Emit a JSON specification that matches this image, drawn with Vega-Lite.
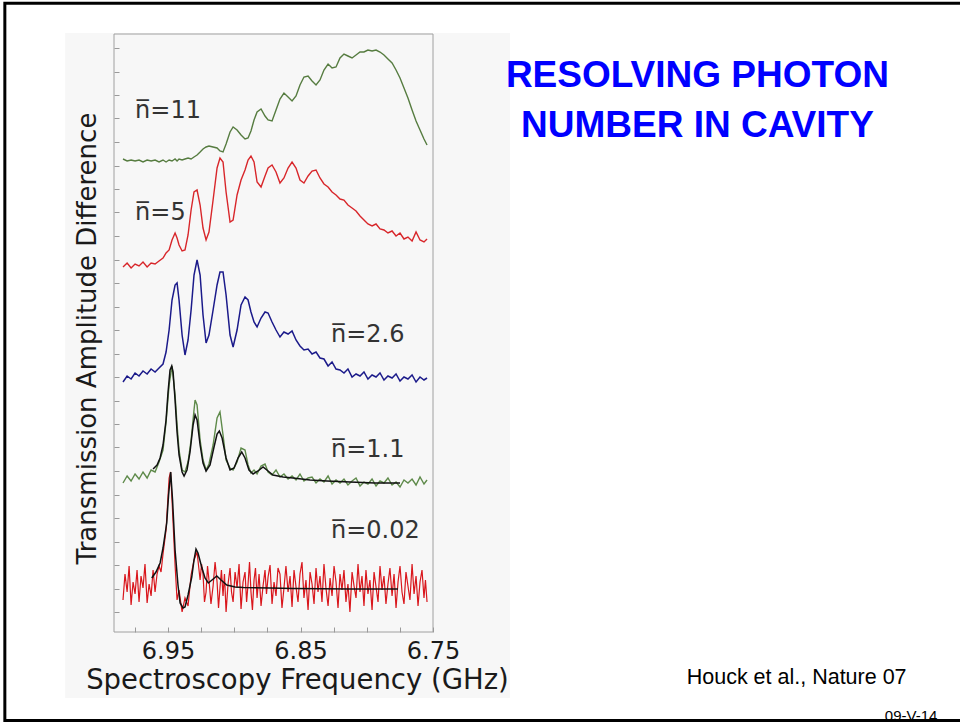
{
"$schema":"https://vega.github.io/schema/vega-lite/v6.json",
"width":319,"height":598,
"autosize":{"type":"none"},
"padding":{"left":114,"top":34,"right":527,"bottom":91},
"background":"#ffffff",
"config":{"view":{"stroke":null}},
"datasets":{
"bg":[{"f":7.0277,"f2":6.6919,"a":599,"a2":-66}],
"frame":[{"f":6.9908,"f2":6.75,"a":598,"a2":0}],
"border":[{"f":7.0732,"f2":6.3485,"a":628.7,"a2":-88.5}],
"n11":[{"f":6.9840,"a":473},{"f":6.9809,"a":471},{"f":6.9779,"a":472},{"f":6.9749,"a":471},{"f":6.9719,"a":472},{"f":6.9689,"a":470},{"f":6.9658,"a":472},{"f":6.9628,"a":471},{"f":6.9598,"a":472},{"f":6.9568,"a":470},{"f":6.9538,"a":472},{"f":6.9515,"a":470},{"f":6.9492,"a":472},{"f":6.9470,"a":471},{"f":6.9447,"a":473},{"f":6.9432,"a":471},{"f":6.9417,"a":473},{"f":6.9394,"a":472},{"f":6.9372,"a":473},{"f":6.9349,"a":474},{"f":6.9326,"a":473},{"f":6.9304,"a":475},{"f":6.9281,"a":477},{"f":6.9258,"a":480},{"f":6.9236,"a":483},{"f":6.9213,"a":485},{"f":6.9191,"a":486},{"f":6.9160,"a":485},{"f":6.9130,"a":484},{"f":6.9108,"a":481},{"f":6.9085,"a":480},{"f":6.9062,"a":488},{"f":6.9032,"a":500},{"f":6.9009,"a":505},{"f":6.8979,"a":502},{"f":6.8949,"a":497},{"f":6.8919,"a":493},{"f":6.8896,"a":494},{"f":6.8874,"a":501},{"f":6.8851,"a":512},{"f":6.8828,"a":520},{"f":6.8798,"a":523},{"f":6.8768,"a":516},{"f":6.8745,"a":512},{"f":6.8715,"a":511},{"f":6.8685,"a":522},{"f":6.8655,"a":533},{"f":6.8625,"a":539},{"f":6.8594,"a":535},{"f":6.8564,"a":531},{"f":6.8534,"a":536},{"f":6.8504,"a":547},{"f":6.8474,"a":555},{"f":6.8443,"a":556},{"f":6.8413,"a":551},{"f":6.8383,"a":547},{"f":6.8353,"a":552},{"f":6.8323,"a":562},{"f":6.8292,"a":568},{"f":6.8262,"a":564},{"f":6.8232,"a":565},{"f":6.8202,"a":574},{"f":6.8172,"a":578},{"f":6.8142,"a":576},{"f":6.8111,"a":574},{"f":6.8081,"a":577},{"f":6.8051,"a":580},{"f":6.8021,"a":580},{"f":6.7991,"a":582},{"f":6.7960,"a":581},{"f":6.7930,"a":582},{"f":6.7900,"a":580},{"f":6.7870,"a":577},{"f":6.7840,"a":573},{"f":6.7809,"a":569},{"f":6.7779,"a":562},{"f":6.7749,"a":554},{"f":6.7719,"a":544},{"f":6.7689,"a":534},{"f":6.7658,"a":522},{"f":6.7628,"a":511},{"f":6.7598,"a":502},{"f":6.7568,"a":493},{"f":6.7545,"a":487}],
"n5":[{"f":6.9840,"a":365},{"f":6.9809,"a":369},{"f":6.9779,"a":364},{"f":6.9749,"a":368},{"f":6.9719,"a":366},{"f":6.9689,"a":370},{"f":6.9658,"a":365},{"f":6.9628,"a":369},{"f":6.9598,"a":368},{"f":6.9568,"a":371},{"f":6.9538,"a":374},{"f":6.9515,"a":379},{"f":6.9492,"a":382},{"f":6.9470,"a":392},{"f":6.9447,"a":399},{"f":6.9432,"a":394},{"f":6.9417,"a":387},{"f":6.9394,"a":381},{"f":6.9372,"a":382},{"f":6.9349,"a":397},{"f":6.9326,"a":422},{"f":6.9304,"a":440},{"f":6.9281,"a":442},{"f":6.9258,"a":427},{"f":6.9236,"a":404},{"f":6.9213,"a":392},{"f":6.9191,"a":400},{"f":6.9160,"a":432},{"f":6.9130,"a":464},{"f":6.9108,"a":474},{"f":6.9085,"a":470},{"f":6.9062,"a":440},{"f":6.9032,"a":410},{"f":6.9009,"a":412},{"f":6.8979,"a":437},{"f":6.8949,"a":452},{"f":6.8919,"a":462},{"f":6.8896,"a":472},{"f":6.8874,"a":476},{"f":6.8851,"a":470},{"f":6.8828,"a":450},{"f":6.8798,"a":445},{"f":6.8768,"a":456},{"f":6.8745,"a":464},{"f":6.8715,"a":467},{"f":6.8685,"a":460},{"f":6.8655,"a":449},{"f":6.8625,"a":454},{"f":6.8594,"a":464},{"f":6.8564,"a":470},{"f":6.8534,"a":464},{"f":6.8504,"a":452},{"f":6.8474,"a":449},{"f":6.8443,"a":456},{"f":6.8413,"a":461},{"f":6.8383,"a":462},{"f":6.8353,"a":454},{"f":6.8323,"a":448},{"f":6.8292,"a":445},{"f":6.8262,"a":440},{"f":6.8232,"a":437},{"f":6.8202,"a":433},{"f":6.8172,"a":432},{"f":6.8142,"a":427},{"f":6.8111,"a":424},{"f":6.8081,"a":421},{"f":6.8051,"a":416},{"f":6.8021,"a":412},{"f":6.7991,"a":408},{"f":6.7960,"a":406},{"f":6.7930,"a":408},{"f":6.7900,"a":403},{"f":6.7870,"a":402},{"f":6.7840,"a":399},{"f":6.7809,"a":401},{"f":6.7779,"a":396},{"f":6.7749,"a":399},{"f":6.7719,"a":393},{"f":6.7689,"a":395},{"f":6.7658,"a":391},{"f":6.7628,"a":400},{"f":6.7598,"a":392},{"f":6.7568,"a":390},{"f":6.7545,"a":393}],
"n26":[{"f":6.9840,"a":250},{"f":6.9809,"a":256},{"f":6.9779,"a":253},{"f":6.9749,"a":259},{"f":6.9719,"a":256},{"f":6.9689,"a":261},{"f":6.9658,"a":258},{"f":6.9628,"a":263},{"f":6.9598,"a":260},{"f":6.9568,"a":264},{"f":6.9538,"a":268},{"f":6.9515,"a":280},{"f":6.9492,"a":302},{"f":6.9470,"a":332},{"f":6.9447,"a":347},{"f":6.9432,"a":349},{"f":6.9417,"a":332},{"f":6.9394,"a":297},{"f":6.9372,"a":277},{"f":6.9349,"a":292},{"f":6.9326,"a":322},{"f":6.9304,"a":357},{"f":6.9281,"a":372},{"f":6.9258,"a":357},{"f":6.9236,"a":317},{"f":6.9213,"a":289},{"f":6.9191,"a":297},{"f":6.9160,"a":322},{"f":6.9130,"a":347},{"f":6.9108,"a":360},{"f":6.9085,"a":360},{"f":6.9062,"a":337},{"f":6.9032,"a":297},{"f":6.9009,"a":285},{"f":6.8979,"a":302},{"f":6.8949,"a":327},{"f":6.8919,"a":335},{"f":6.8896,"a":332},{"f":6.8874,"a":320},{"f":6.8851,"a":310},{"f":6.8828,"a":305},{"f":6.8798,"a":314},{"f":6.8768,"a":320},{"f":6.8745,"a":319},{"f":6.8715,"a":310},{"f":6.8685,"a":302},{"f":6.8655,"a":295},{"f":6.8625,"a":300},{"f":6.8594,"a":298},{"f":6.8564,"a":301},{"f":6.8534,"a":292},{"f":6.8504,"a":286},{"f":6.8474,"a":282},{"f":6.8443,"a":283},{"f":6.8413,"a":278},{"f":6.8383,"a":280},{"f":6.8353,"a":274},{"f":6.8323,"a":273},{"f":6.8292,"a":266},{"f":6.8262,"a":270},{"f":6.8232,"a":263},{"f":6.8202,"a":262},{"f":6.8172,"a":259},{"f":6.8142,"a":263},{"f":6.8111,"a":255},{"f":6.8081,"a":258},{"f":6.8051,"a":256},{"f":6.8021,"a":260},{"f":6.7991,"a":253},{"f":6.7960,"a":257},{"f":6.7930,"a":255},{"f":6.7900,"a":259},{"f":6.7870,"a":252},{"f":6.7840,"a":256},{"f":6.7809,"a":254},{"f":6.7779,"a":258},{"f":6.7749,"a":251},{"f":6.7719,"a":255},{"f":6.7689,"a":253},{"f":6.7658,"a":257},{"f":6.7628,"a":250},{"f":6.7598,"a":255},{"f":6.7568,"a":252},{"f":6.7545,"a":254}],
"n1":[{"f":6.9840,"a":149},{"f":6.9809,"a":156},{"f":6.9779,"a":151},{"f":6.9749,"a":158},{"f":6.9719,"a":153},{"f":6.9689,"a":160},{"f":6.9658,"a":154},{"f":6.9628,"a":162},{"f":6.9598,"a":160},{"f":6.9568,"a":170},{"f":6.9538,"a":182},{"f":6.9515,"a":210},{"f":6.9492,"a":247},{"f":6.9470,"a":266},{"f":6.9447,"a":237},{"f":6.9432,"a":207},{"f":6.9417,"a":182},{"f":6.9394,"a":162},{"f":6.9372,"a":160},{"f":6.9349,"a":170},{"f":6.9326,"a":192},{"f":6.9304,"a":222},{"f":6.9296,"a":232},{"f":6.9281,"a":227},{"f":6.9258,"a":192},{"f":6.9236,"a":172},{"f":6.9213,"a":162},{"f":6.9191,"a":168},{"f":6.9160,"a":187},{"f":6.9130,"a":214},{"f":6.9108,"a":220},{"f":6.9085,"a":197},{"f":6.9062,"a":172},{"f":6.9032,"a":164},{"f":6.9009,"a":162},{"f":6.8979,"a":170},{"f":6.8949,"a":184},{"f":6.8919,"a":182},{"f":6.8896,"a":167},{"f":6.8874,"a":159},{"f":6.8851,"a":162},{"f":6.8828,"a":158},{"f":6.8798,"a":166},{"f":6.8768,"a":168},{"f":6.8745,"a":160},{"f":6.8715,"a":157},{"f":6.8685,"a":162},{"f":6.8655,"a":155},{"f":6.8625,"a":158},{"f":6.8594,"a":153},{"f":6.8564,"a":156},{"f":6.8534,"a":152},{"f":6.8504,"a":158},{"f":6.8474,"a":151},{"f":6.8443,"a":154},{"f":6.8413,"a":155},{"f":6.8383,"a":149},{"f":6.8353,"a":153},{"f":6.8323,"a":150},{"f":6.8292,"a":156},{"f":6.8262,"a":148},{"f":6.8232,"a":152},{"f":6.8202,"a":149},{"f":6.8172,"a":153},{"f":6.8142,"a":147},{"f":6.8111,"a":151},{"f":6.8081,"a":154},{"f":6.8051,"a":146},{"f":6.8021,"a":150},{"f":6.7991,"a":148},{"f":6.7960,"a":153},{"f":6.7930,"a":146},{"f":6.7900,"a":151},{"f":6.7870,"a":149},{"f":6.7840,"a":154},{"f":6.7809,"a":147},{"f":6.7779,"a":150},{"f":6.7749,"a":145},{"f":6.7719,"a":152},{"f":6.7689,"a":149},{"f":6.7658,"a":153},{"f":6.7628,"a":147},{"f":6.7598,"a":155},{"f":6.7568,"a":148},{"f":6.7545,"a":152}],
"n0":[{"f":6.9840,"a":32},{"f":6.9825,"a":58},{"f":6.9809,"a":40},{"f":6.9794,"a":66},{"f":6.9779,"a":27},{"f":6.9764,"a":50},{"f":6.9749,"a":38},{"f":6.9734,"a":62},{"f":6.9719,"a":30},{"f":6.9704,"a":56},{"f":6.9689,"a":44},{"f":6.9674,"a":68},{"f":6.9658,"a":29},{"f":6.9643,"a":48},{"f":6.9628,"a":36},{"f":6.9613,"a":62},{"f":6.9598,"a":40},{"f":6.9583,"a":58},{"f":6.9568,"a":66},{"f":6.9553,"a":60},{"f":6.9538,"a":78},{"f":6.9515,"a":102},{"f":6.9492,"a":154},{"f":6.9481,"a":160},{"f":6.9470,"a":132},{"f":6.9447,"a":67},{"f":6.9432,"a":32},{"f":6.9417,"a":42},{"f":6.9394,"a":20},{"f":6.9372,"a":34},{"f":6.9349,"a":26},{"f":6.9326,"a":57},{"f":6.9304,"a":72},{"f":6.9281,"a":80},{"f":6.9258,"a":52},{"f":6.9247,"a":68},{"f":6.9236,"a":58},{"f":6.9225,"a":30},{"f":6.9213,"a":40},{"f":6.9202,"a":66},{"f":6.9191,"a":52},{"f":6.9176,"a":28},{"f":6.9160,"a":46},{"f":6.9145,"a":70},{"f":6.9130,"a":50},{"f":6.9119,"a":24},{"f":6.9108,"a":44},{"f":6.9097,"a":62},{"f":6.9085,"a":36},{"f":6.9074,"a":58},{"f":6.9062,"a":20},{"f":6.9047,"a":48},{"f":6.9032,"a":64},{"f":6.9021,"a":40},{"f":6.9009,"a":30},{"f":6.8994,"a":60},{"f":6.8979,"a":44},{"f":6.8964,"a":68},{"f":6.8949,"a":23},{"f":6.8934,"a":50},{"f":6.8919,"a":60},{"f":6.8907,"a":30},{"f":6.8896,"a":48},{"f":6.8885,"a":70},{"f":6.8874,"a":40},{"f":6.8863,"a":22},{"f":6.8851,"a":52},{"f":6.8840,"a":64},{"f":6.8828,"a":34},{"f":6.8813,"a":58},{"f":6.8798,"a":26},{"f":6.8783,"a":46},{"f":6.8768,"a":62},{"f":6.8757,"a":38},{"f":6.8745,"a":55},{"f":6.8730,"a":67},{"f":6.8715,"a":28},{"f":6.8700,"a":50},{"f":6.8685,"a":36},{"f":6.8670,"a":64},{"f":6.8655,"a":58},{"f":6.8640,"a":24},{"f":6.8625,"a":44},{"f":6.8610,"a":66},{"f":6.8594,"a":40},{"f":6.8579,"a":56},{"f":6.8564,"a":25},{"f":6.8549,"a":62},{"f":6.8534,"a":45},{"f":6.8519,"a":30},{"f":6.8504,"a":58},{"f":6.8489,"a":70},{"f":6.8474,"a":34},{"f":6.8459,"a":52},{"f":6.8443,"a":22},{"f":6.8428,"a":60},{"f":6.8413,"a":48},{"f":6.8398,"a":28},{"f":6.8383,"a":64},{"f":6.8368,"a":40},{"f":6.8353,"a":56},{"f":6.8338,"a":30},{"f":6.8323,"a":68},{"f":6.8308,"a":44},{"f":6.8292,"a":26},{"f":6.8277,"a":54},{"f":6.8262,"a":36},{"f":6.8247,"a":66},{"f":6.8232,"a":50},{"f":6.8217,"a":24},{"f":6.8202,"a":58},{"f":6.8187,"a":42},{"f":6.8172,"a":62},{"f":6.8157,"a":30},{"f":6.8142,"a":48},{"f":6.8127,"a":20},{"f":6.8111,"a":60},{"f":6.8096,"a":46},{"f":6.8081,"a":34},{"f":6.8066,"a":68},{"f":6.8051,"a":40},{"f":6.8036,"a":56},{"f":6.8021,"a":26},{"f":6.8006,"a":62},{"f":6.7991,"a":38},{"f":6.7976,"a":52},{"f":6.7960,"a":22},{"f":6.7945,"a":60},{"f":6.7930,"a":45},{"f":6.7915,"a":30},{"f":6.7900,"a":66},{"f":6.7885,"a":42},{"f":6.7870,"a":56},{"f":6.7855,"a":28},{"f":6.7840,"a":48},{"f":6.7825,"a":64},{"f":6.7809,"a":36},{"f":6.7794,"a":58},{"f":6.7779,"a":24},{"f":6.7764,"a":50},{"f":6.7749,"a":66},{"f":6.7734,"a":40},{"f":6.7719,"a":28},{"f":6.7704,"a":60},{"f":6.7689,"a":46},{"f":6.7674,"a":32},{"f":6.7658,"a":68},{"f":6.7643,"a":38},{"f":6.7628,"a":56},{"f":6.7613,"a":26},{"f":6.7598,"a":50},{"f":6.7583,"a":62},{"f":6.7568,"a":34},{"f":6.7557,"a":52},{"f":6.7545,"a":30}],
"fit1":[{"f":6.9613,"a":163},{"f":6.9583,"a":167},{"f":6.9560,"a":174},{"f":6.9538,"a":187},{"f":6.9515,"a":212},{"f":6.9500,"a":240},{"f":6.9485,"a":262},{"f":6.9472,"a":266},{"f":6.9462,"a":260},{"f":6.9447,"a":232},{"f":6.9432,"a":200},{"f":6.9417,"a":177},{"f":6.9394,"a":160},{"f":6.9379,"a":156},{"f":6.9357,"a":162},{"f":6.9334,"a":180},{"f":6.9311,"a":207},{"f":6.9296,"a":217},{"f":6.9281,"a":212},{"f":6.9258,"a":187},{"f":6.9236,"a":169},{"f":6.9213,"a":161},{"f":6.9183,"a":167},{"f":6.9153,"a":185},{"f":6.9130,"a":198},{"f":6.9113,"a":201},{"f":6.9092,"a":194},{"f":6.9062,"a":174},{"f":6.9032,"a":162},{"f":6.9002,"a":164},{"f":6.8972,"a":174},{"f":6.8944,"a":180},{"f":6.8919,"a":174},{"f":6.8889,"a":162},{"f":6.8858,"a":158},{"f":6.8821,"a":161},{"f":6.8783,"a":165},{"f":6.8745,"a":161},{"f":6.8708,"a":157},{"f":6.8632,"a":155},{"f":6.8557,"a":154},{"f":6.8428,"a":152},{"f":6.8300,"a":151},{"f":6.8126,"a":150},{"f":6.7938,"a":149},{"f":6.7749,"a":149}],
"fit0":[{"f":6.9623,"a":54},{"f":6.9591,"a":60},{"f":6.9560,"a":69},{"f":6.9538,"a":84},{"f":6.9510,"a":109},{"f":6.9496,"a":137},{"f":6.9480,"a":160},{"f":6.9466,"a":132},{"f":6.9447,"a":82},{"f":6.9425,"a":47},{"f":6.9409,"a":29},{"f":6.9387,"a":24},{"f":6.9372,"a":25},{"f":6.9349,"a":37},{"f":6.9321,"a":55},{"f":6.9304,"a":72},{"f":6.9289,"a":83},{"f":6.9274,"a":79},{"f":6.9246,"a":65},{"f":6.9221,"a":54},{"f":6.9196,"a":49},{"f":6.9168,"a":52},{"f":6.9132,"a":56},{"f":6.9100,"a":52},{"f":6.9057,"a":47},{"f":6.8994,"a":45},{"f":6.8932,"a":44.5},{"f":6.8730,"a":44},{"f":6.8557,"a":43.5},{"f":6.8126,"a":43},{"f":6.7764,"a":43}],
"labels":[{"f":6.9749,"a":513.7,"t":"n̅=11"},{"f":6.9749,"a":412,"t":"n̅=5"},{"f":6.8270,"a":290.3,"t":"n̅=2.6"},{"f":6.8270,"a":175.3,"t":"n̅=1.1"},{"f":6.8270,"a":93.7,"t":"n̅=0.02"}],
"titles":[{"f":6.5504,"a":545.3,"t":"RESOLVING PHOTON"},{"f":6.5504,"a":495.3,"t":"NUMBER IN CAVITY"}],
"cite":[{"f":6.5585,"a":-52.3,"t":"Houck et al., Nature 07"}],
"code":[{"f":6.4089,"a":-88.5,"t":"09-V-14"}]
},
"encoding":{
"x":{"field":"f","type":"quantitative",
 "scale":{"domain":[6.75,6.9908],"reverse":true,"nice":false,"zero":false},
 "axis":{"title":"Spectroscopy Frequency (GHz)","values":[6.975,6.95,6.925,6.9,6.875,6.85,6.825,6.8,6.775,6.75],
  "labelExpr":"abs(datum.value*20-round(datum.value*20))<0.01 && round(datum.value*20)%2==1 ? format(datum.value,'.2f') : ''",
  "labelFont":"DejaVu Sans","labelFontSize":24,"labelColor":"#1a1a1a","labelBaseline":"alphabetic","labelPadding":31,
  "labelFlush":false,"labelOverlap":false,"tickSize":-5,"tickColor":"#9a9a9a","domain":false,"grid":false,"zindex":1,
  "titleFont":"DejaVu Sans","titleFontSize":27.5,"titleFontWeight":"normal","titleColor":"#1a1a1a",
  "titleX":183,"titleY":56,"titleBaseline":"alphabetic","titleAlign":"center"}},
"y":{"field":"a","type":"quantitative",
 "scale":{"domain":[0,598],"nice":false,"zero":false},
 "axis":{"title":"Transmission Amplitude Difference","values":[20,43.5,67,90.5,114,137.5,161,184.5,208,231.5,255,278.5,302,325.5,349,372.5,396,419.5,443,466.5,490,513.5,537,560.5,584],
  "labels":false,"tickSize":-5,"tickColor":"#9a9a9a","domain":false,"grid":false,"zindex":1,
  "titleFont":"DejaVu Sans","titleFontSize":26,"titleFontWeight":"normal","titleColor":"#1a1a1a",
  "titleX":-19,"titleY":304,"titleBaseline":"alphabetic","titleAlign":"center","titleAngle":270}}
},
"layer":[
{"data":{"name":"bg"},"mark":{"type":"rect","color":"#f7f7f7"},"encoding":{"x2":{"field":"f2"},"y2":{"field":"a2"}}},
{"data":{"name":"frame"},"mark":{"type":"rect","filled":false,"color":"#a0a0a0","strokeWidth":1},"encoding":{"x2":{"field":"f2"},"y2":{"field":"a2"}}},
{"data":{"name":"n11"},"mark":{"type":"line","color":"#567c40","strokeWidth":1.4}},
{"data":{"name":"n5"},"mark":{"type":"line","color":"#d8262a","strokeWidth":1.4}},
{"data":{"name":"n26"},"mark":{"type":"line","color":"#1b1a8a","strokeWidth":1.5}},
{"data":{"name":"n1"},"mark":{"type":"line","color":"#5e8a4a","strokeWidth":1.4}},
{"data":{"name":"n0"},"mark":{"type":"line","color":"#d9161c","strokeWidth":1.2}},
{"data":{"name":"fit1"},"mark":{"type":"line","color":"#111111","strokeWidth":1.5}},
{"data":{"name":"fit0"},"mark":{"type":"line","color":"#111111","strokeWidth":1.5}},
{"data":{"name":"labels"},"mark":{"type":"text","align":"left","baseline":"alphabetic","font":"DejaVu Sans","fontSize":24,"color":"#333333"},"encoding":{"text":{"field":"t"}}},
{"data":{"name":"titles"},"mark":{"type":"text","align":"center","baseline":"alphabetic","font":"Liberation Sans","fontWeight":"bold","fontSize":37,"color":"#0000ff"},"encoding":{"text":{"field":"t"}}},
{"data":{"name":"cite"},"mark":{"type":"text","align":"left","baseline":"alphabetic","font":"Liberation Sans","fontSize":21.5,"color":"#000000"},"encoding":{"text":{"field":"t"}}},
{"data":{"name":"code"},"mark":{"type":"text","align":"left","baseline":"alphabetic","font":"Liberation Sans","fontSize":15,"color":"#000000"},"encoding":{"text":{"field":"t"}}},
{"data":{"name":"border"},"mark":{"type":"rect","filled":false,"color":"#000000","strokeWidth":3},"encoding":{"x2":{"field":"f2"},"y2":{"field":"a2"}}}
]
}
